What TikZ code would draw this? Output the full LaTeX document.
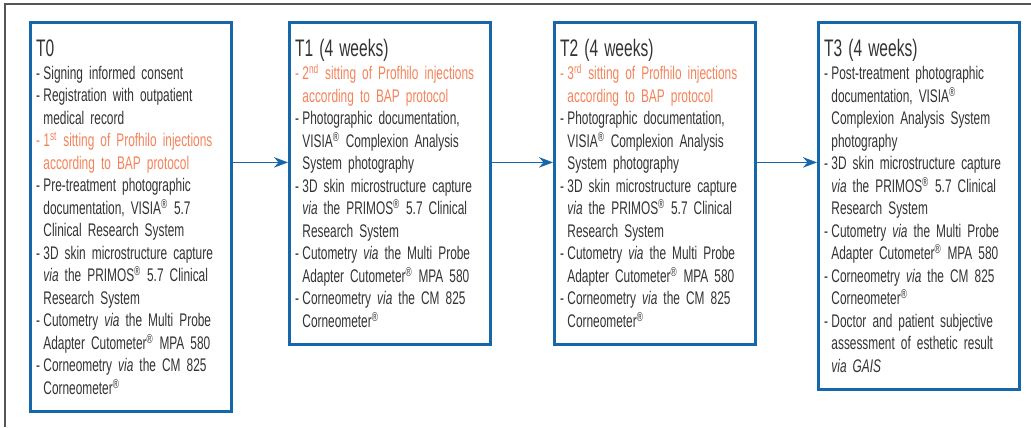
\documentclass[tikz,border=0pt]{standalone}
\usepackage{fontspec}
\setmainfont[FakeStretch=0.65,WordSpace=0.7]{Liberation Sans}
\usetikzlibrary{arrows.meta}
\definecolor{boxblue}{HTML}{1666AA}
\definecolor{inj}{HTML}{F4835A}
\definecolor{txt}{HTML}{333333}
\definecolor{framegray}{HTML}{555555}
\tikzset{stage/.style={draw=boxblue,line width=2.2pt,anchor=north west,text width=4.75cm,
    inner xsep=0.14cm,inner ysep=12pt,align=left,text=txt,font=\fontsize{13}{16}\selectfont},
  flow/.style={->,draw=boxblue,line width=1pt}}
\newcommand{\stagetitle}[1]{\hyphenpenalty=10000 {\fontsize{17}{18}\selectfont #1\par}\vspace{0.5pt}}
\newcommand{\itm}[2][txt]{\par\hangindent=5.2pt\hangafter=1\noindent{\color{#1}\makebox[5.2pt][l]{-}#2}\par}
\newcommand{\brk}{\hfil\break}
\newcommand{\reg}{\textsuperscript{®}}

\begin{document}
\begin{tikzpicture}[>={Stealth[length=10pt,width=7.5pt]}]
    \useasboundingbox (0,0) rectangle (25.775,-10.675);
    % frame round the figure
    \draw[draw=framegray,line width=1.4pt] (0.125,-10.675) -- (0.125,-0.1) -- (25.775,-0.1);

    \node[stage] (t0) at (0.725,-0.525) {\stagetitle{T0}
        \itm{Signing informed consent}
        \itm{Registration with outpatient\brk medical record}
        \itm[inj]{1\textsuperscript{st} sitting of Profhilo injections\brk according to BAP protocol}
        \itm{Pre-treatment photographic\brk documentation, VISIA\reg{} 5.7\brk Clinical Research System}
        \itm{3D skin microstructure capture\brk \textit{via} the PRIMOS\reg{} 5.7 Clinical\brk Research System}
        \itm{Cutometry \textit{via} the Multi Probe\brk Adapter Cutometer\reg{} MPA 580}
        \itm{Corneometry \textit{via} the CM 825\brk Corneometer\reg}};
    \node[stage] (t1) at (7.2,-0.525) {\stagetitle{T1 (4 weeks)}
        \itm[inj]{2\textsuperscript{nd} sitting of Profhilo injections\brk according to BAP protocol}
        \itm{Photographic documentation,\brk VISIA\reg{} Complexion Analysis\brk System photography}
        \itm{3D skin microstructure capture\brk \textit{via} the PRIMOS\reg{} 5.7 Clinical\brk Research System}
        \itm{Cutometry \textit{via} the Multi Probe\brk Adapter Cutometer\reg{} MPA 580}
        \itm{Corneometry \textit{via} the CM 825\brk Corneometer\reg}};
    \node[stage] (t2) at (13.825,-0.525) {\stagetitle{T2 (4 weeks)}
        \itm[inj]{3\textsuperscript{rd} sitting of Profhilo injections\brk according to BAP protocol}
        \itm{Photographic documentation,\brk VISIA\reg{} Complexion Analysis\brk System photography}
        \itm{3D skin microstructure capture\brk \textit{via} the PRIMOS\reg{} 5.7 Clinical\brk Research System}
        \itm{Cutometry \textit{via} the Multi Probe\brk Adapter Cutometer\reg{} MPA 580}
        \itm{Corneometry \textit{via} the CM 825\brk Corneometer\reg}};
    \node[stage] (t3) at (20.425,-0.525) {\stagetitle{T3 (4 weeks)}
        \itm{Post-treatment photographic\brk documentation, VISIA\reg\brk Complexion Analysis System\brk photography}
        \itm{3D skin microstructure capture\brk \textit{via} the PRIMOS\reg{} 5.7 Clinical\brk Research System}
        \itm{Cutometry \textit{via} the Multi Probe\brk Adapter Cutometer\reg{} MPA 580}
        \itm{Corneometry \textit{via} the CM 825\brk Corneometer\reg}
        \itm{Doctor and patient subjective\brk assessment of esthetic result\brk \textit{via GAIS}}};

    % arrows between the visits
    \coordinate (lane) at (0,-4.06);
    \draw[flow] (t0.east |- lane) -- (t1.west |- lane);
    \draw[flow] (t1.east |- lane) -- (t2.west |- lane);
    \draw[flow] (t2.east |- lane) -- (t3.west |- lane);
\end{tikzpicture}
\end{document}
